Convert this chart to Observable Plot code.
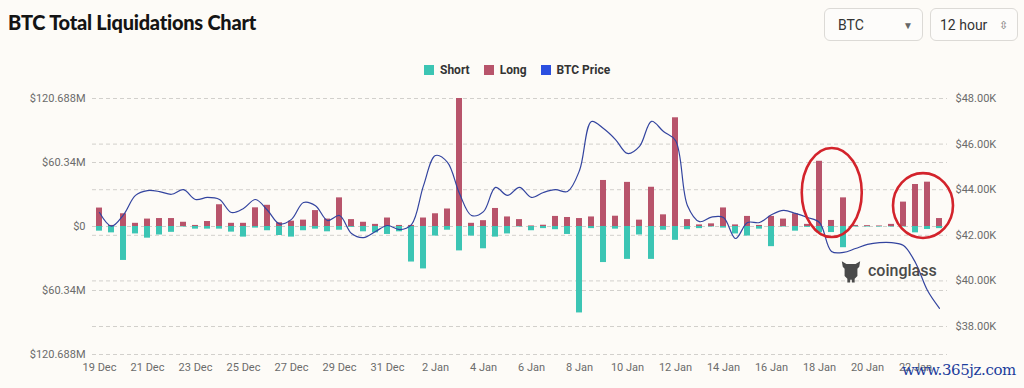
<!DOCTYPE html>
<html><head><meta charset="utf-8">
<script src="https://cdn.jsdelivr.net/npm/d3@7"></script>
<script src="https://cdn.jsdelivr.net/npm/@observablehq/plot@0.6"></script>
<style>
body{margin:0;background:#fdfbf7;width:1024px;height:388px;overflow:hidden;position:relative;font-family:"Noto Sans",sans-serif}
#title{position:absolute;left:8px;top:10px;font-family:Lato,sans-serif;font-weight:900;font-size:20px;letter-spacing:-0.25px;color:#141414}
.sel{position:absolute;top:8px;height:33px;border:1px solid #dcdad6;border-radius:6px;background:#fdfcfa;font-family:Roboto,sans-serif;font-size:14px;color:#333;line-height:33px;box-sizing:border-box}
#s1{left:824px;width:99px;padding-left:13px}
#s1 span{position:absolute;left:78px;top:0;font-size:10px;color:#666}
#s2{left:930px;width:88px;padding-left:9px}
#s2 span{position:absolute;left:68px;top:0;font-size:11px;color:#777}
#legend{position:absolute;top:63px;left:424px;font-family:Roboto,sans-serif;font-weight:700;font-size:12px;color:#333;display:flex;align-items:center}
#legend i{display:inline-block;width:10px;height:10px;margin-right:6px}
#legend b{margin-right:14px;font-weight:700}
#chart{position:absolute;left:0;top:80px}
#wm{position:absolute;left:840px;top:257px;display:flex;align-items:center;font-family:Roboto,sans-serif;font-weight:500;font-size:16px;color:#4a4a4a}
#wm2{position:absolute;left:902px;top:361px;font-family:"DejaVu Serif",serif;font-size:15px;color:#1c3d9c;letter-spacing:-0.4px}
</style></head><body>
<div id="title">BTC Total Liquidations Chart</div>
<div class="sel" id="s1">BTC<span>▼</span></div>
<div class="sel" id="s2">12 hour<span>⇳</span></div>
<div id="legend"><i style="background:#3cc5b4"></i><b>Short</b><i style="background:#b8546b"></i><b>Long</b><i style="background:#2b4fe0"></i><b>BTC Price</b></div>
<div id="chart"></div>
<div id="wm"><svg width="22" height="27" viewBox="0 0 24 28"><path d="M2 4 L7 7 L17 7 L22 4 L21 10 L19 12 L19 20 L16 23 L16 27 L13 27 L13 24 L11 24 L11 27 L8 27 L8 23 L5 20 L5 12 L3 10 Z" fill="#4a4a4a"/></svg><span style="margin-left:6px">coinglass</span></div>
<div id="wm2">www.365jz.com</div>
<script>
// 12-hour liquidations, starting 19 Dec 2023 00:00 UTC (values in $M)
const longs = [17.4,1,12,3,7,7.5,7.5,4,1,4.7,20.5,3,3,17.6,20,3.5,5,6,15,7,27,6.5,4,2,8,1,1,8,12,16.5,
  120.688,3,5.5,17,9,6.5,0.5,1.2,9.5,8.5,7.5,9,43.4,9.7,41.6,6,37,11,102.5,6.5,1.5,2.5,17.5,1.5,9.5,1,9.5,7,12,2,
  61.5,5.7,27,1,0.8,0.5,2,23,39.6,41.8,7.5];
const shorts = [4.4,6,32,7,11,8,5.5,0.5,2.5,2.5,2.5,5.3,10,1.5,4,8.5,10,4,2.5,5,3.5,0.8,5,6,7.5,5,33.5,40,9,3.5,
  23,9,21,10,7,0.5,4,2,3,7.5,81.5,2,34,2.5,31,8,31,3.5,13,3,2,0.5,1.5,7,9,2.5,19,0.5,4.4,0.8,
  6,5.7,20,0.5,0.5,0.5,0.5,0.5,6,2.8,2];
// BTC price ($K)
const prices = [43.0,42.4,42.9,43.75,43.96,43.92,43.8,44.0,43.57,43.66,43.57,43.0,43.18,43.57,43.1,42.5,42.7,43.44,43.3,42.65,
  42.87,42.08,41.9,42.17,42.43,42.25,42.47,44.18,45.5,45.2,43.83,42.87,43.04,44.1,43.75,44.1,43.66,43.88,44.0,43.92,
  44.84,46.99,46.68,46.2,45.59,45.9,47.0,46.55,46.16,43.3,42.6,42.8,42.78,41.86,42.56,42.56,42.9,43.09,42.96,42.78,
  42.56,41.29,41.25,41.42,41.6,41.68,41.68,41.55,40.8,39.58,38.8];
const leftTicks = [-120.688,-60.34,0,60.34,120.688];
const rightTicks = [38,40,42,44,46,48];
const xTicks = ["2023-12-19","2023-12-21","2023-12-23","2023-12-25","2023-12-27","2023-12-29","2023-12-31",
  "2024-01-02","2024-01-04","2024-01-06","2024-01-08","2024-01-10","2024-01-12","2024-01-14","2024-01-16",
  "2024-01-18","2024-01-20","2024-01-22"];
// hand-drawn red circles: [centre date, centre $M, half-width days, half-height $M]
const circles = [["2024-01-18T12:45:00Z",31.6,1.25,42],["2024-01-22T08:00:00Z",19.3,1.25,30.6]];

const SHORT_C = "#3cc5b4", LONG_C = "#b8546b", LINE_C = "#33449f";
const t0 = Date.UTC(2023,11,19);
const rows = longs.map((l,i)=>({date:new Date(t0+i*12*3600e3), long:l, short:-shorts[i], price:prices[i]}));
const H = 3*3600e3;
const TOP = 120.688, PTOP = 48, M_PER_K = 21.5;
const toV = p => TOP + (p-PTOP)*M_PER_K;
const fromV = v => (v-TOP)/M_PER_K + PTOP;

const chart = Plot.plot({
  width:1024, height:300, marginLeft:92, marginRight:77, marginTop:18, marginBottom:26,
  style:{background:"transparent", fontFamily:"Roboto, sans-serif", fontSize:"11px", color:"#6b6b6b"},
  x:{type:"utc", domain:[new Date(Date.UTC(2023,11,18,17)), new Date(Date.UTC(2024,0,23,8))]},
  y:{domain:[-TOP, TOP]},
  marks:[
    Plot.gridY(leftTicks, {stroke:"#d2d0cc", strokeOpacity:1, strokeDasharray:"4,3"}),
    Plot.gridY(rightTicks.map(toV), {stroke:"#d2d0cc", strokeOpacity:1, strokeDasharray:"4,3"}),
    Plot.rect(rows, {x1:d=>new Date(+d.date-H), x2:d=>new Date(+d.date+H), y1:d=>0, y2:"short", fill:SHORT_C}),
    Plot.rect(rows, {x1:d=>new Date(+d.date-H), x2:d=>new Date(+d.date+H), y1:d=>0, y2:"long", fill:LONG_C}),
    Plot.line(rows, {x:"date", y:d=>toV(d.price), stroke:LINE_C, strokeWidth:1.2, curve:"catmull-rom"}),
    Plot.axisX(xTicks.map(s=>new Date(s+"T00:00:00Z")), {tickSize:0, tickPadding:9, tickFormat:d3.utcFormat("%-d %b"), label:null}),
    Plot.axisY(leftTicks, {anchor:"left", tickSize:0, tickPadding:7, label:null,
      tickFormat:d=> d===0 ? "$0" : "$"+Math.abs(d)+"M"}),
    Plot.axisY(rightTicks.map(toV), {anchor:"right", tickSize:0, tickPadding:8, label:null,
      tickFormat:v=>"$"+fromV(v).toFixed(2)+"K"})
  ]
});
document.getElementById("chart").appendChild(chart);
const sx = chart.scale("x"), sy = chart.scale("y");
const DAY = 86400e3;
d3.select(chart).append("g").selectAll("ellipse").data(circles).join("ellipse")
  .attr("cx", c=>sx.apply(new Date(c[0])))
  .attr("cy", c=>sy.apply(c[1]))
  .attr("rx", c=>sx.apply(new Date(+new Date(c[0])+c[2]*DAY)) - sx.apply(new Date(c[0])))
  .attr("ry", c=>sy.apply(0) - sy.apply(c[3]))
  .attr("fill","none").attr("stroke","#d3232b").attr("stroke-width",2.6);
</script>
</body></html>
